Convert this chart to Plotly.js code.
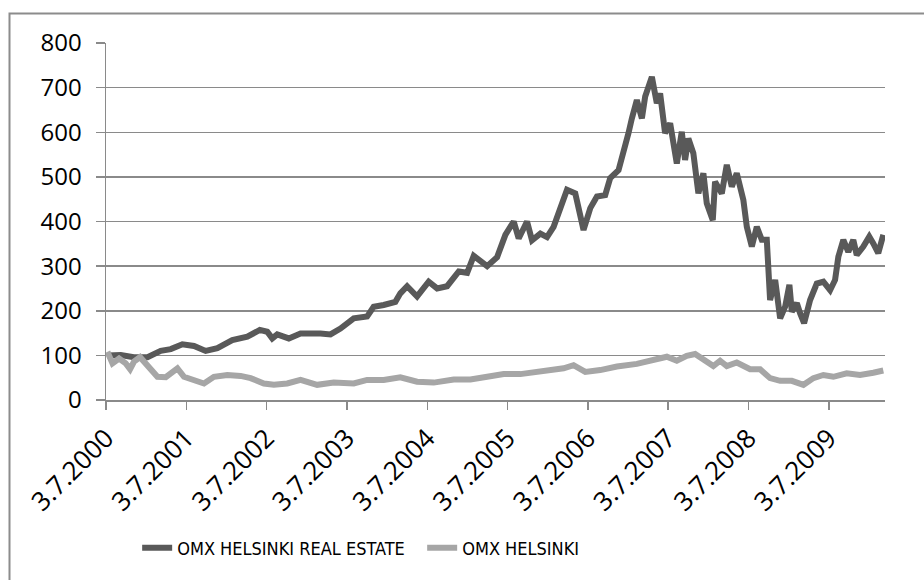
<!DOCTYPE html>
<html>
<head>
<meta charset="utf-8">
<script src="https://cdn.plot.ly/plotly-3.0.1.min.js"></script>
<style>
  html, body { margin: 0; padding: 0; background: #ffffff; }
  #chart { width: 924px; height: 580px; }
</style>
</head>
<body>
<div id="chart"></div>
<script>
// Time positions expressed as decimal years
const realEstateTime = [2000.520, 2000.686, 2000.848, 2001.018, 2001.183, 2001.308, 2001.453, 2001.598, 2001.743, 2001.889,
  2002.075, 2002.262, 2002.418, 2002.510, 2002.573, 2002.635, 2002.779, 2002.925, 2003.173, 2003.298,
  2003.422, 2003.588, 2003.754, 2003.836, 2003.961, 2004.106, 2004.168, 2004.252, 2004.376, 2004.520,
  2004.625, 2004.749, 2004.894, 2004.998, 2005.080, 2005.247, 2005.371, 2005.474, 2005.578, 2005.640,
  2005.744, 2005.806, 2005.910, 2005.993, 2006.075, 2006.158, 2006.242, 2006.345, 2006.407, 2006.448,
  2006.532, 2006.615, 2006.718, 2006.780, 2006.884, 2006.946, 2007.008, 2007.050, 2007.112, 2007.175,
  2007.216, 2007.299, 2007.361, 2007.402, 2007.464, 2007.527, 2007.610, 2007.672, 2007.713, 2007.754,
  2007.816, 2007.879, 2007.941, 2007.983, 2008.058, 2008.086, 2008.170, 2008.232, 2008.294, 2008.356,
  2008.438, 2008.481, 2008.543, 2008.605, 2008.667, 2008.729, 2008.770, 2008.833, 2008.895, 2008.957,
  2009.010, 2009.040, 2009.103, 2009.144, 2009.193, 2009.268, 2009.351, 2009.433, 2009.517, 2009.579,
  2009.620, 2009.682, 2009.744, 2009.806, 2009.849, 2009.931, 2010.005, 2010.055, 2010.117, 2010.180];
const realEstateValues = [100, 101, 96, 96, 110, 114, 125, 121, 110, 116,
  134, 142, 157, 153, 138, 147, 138, 149, 149, 147,
  160, 183, 187, 209, 213, 220, 239, 255, 232, 265,
  250, 255, 288, 285, 323, 300, 320, 370, 400, 362,
  400, 358, 373, 365, 388, 433, 471, 463, 411, 381,
  430, 456, 459, 497, 515, 553, 598, 631, 672, 631,
  680, 724, 665, 687, 598, 620, 530, 601, 538, 586,
  553, 463, 508, 441, 403, 489, 463, 527, 478, 508,
  448, 388, 344, 388, 359, 359, 224, 269, 183, 209,
  258, 198, 217, 194, 172, 224, 261, 265, 246, 269,
  321, 359, 332, 359, 325, 344, 366, 351, 329, 370];

const helsinkiTime = [2000.520, 2000.583, 2000.665, 2000.748, 2000.802, 2000.851, 2000.926, 2000.997, 2001.059, 2001.142,
  2001.246, 2001.329, 2001.391, 2001.473, 2001.578, 2001.722, 2001.846, 2002.013, 2002.178, 2002.303,
  2002.468, 2002.593, 2002.759, 2002.925, 2003.132, 2003.339, 2003.588, 2003.754, 2003.961, 2004.168,
  2004.376, 2004.583, 2004.831, 2005.039, 2005.247, 2005.453, 2005.661, 2005.826, 2006.034, 2006.200,
  2006.324, 2006.470, 2006.656, 2006.864, 2007.112, 2007.319, 2007.486, 2007.610, 2007.734, 2007.838,
  2007.941, 2008.065, 2008.149, 2008.232, 2008.356, 2008.522, 2008.646, 2008.770, 2008.895, 2009.040,
  2009.185, 2009.309, 2009.433, 2009.558, 2009.724, 2009.890, 2010.055, 2010.180];
const helsinkiValues = [108, 82, 93, 82, 69, 86, 96, 82, 71, 52,
  51, 63, 71, 52, 45, 37, 52, 56, 54, 49,
  37, 34, 37, 45, 34, 39, 37, 45, 45, 51,
  41, 39, 46, 46, 52, 58, 58, 61, 66, 71,
  78, 63, 67, 75, 81, 91, 97, 88, 99, 103,
  90, 76, 88, 76, 84, 69, 69, 49, 43, 43,
  34, 49, 56, 52, 60, 56, 61, 66];

const seriesNames = ['OMX HELSINKI REAL ESTATE', 'OMX HELSINKI'];
const tickYears = [2000, 2001, 2002, 2003, 2004, 2005, 2006, 2007, 2008, 2009];
const tickLabels = ['3.7.2000', '3.7.2001', '3.7.2002', '3.7.2003', '3.7.2004', '3.7.2005', '3.7.2006', '3.7.2007', '3.7.2008', '3.7.2009'];
const axisStart = '2000-07-03';
const axisEndYear = 2010.201;

function pad(n) { return (n < 10 ? '0' : '') + n; }
function yearToDate(d) {
  const y = Math.floor(d);
  const start = Date.UTC(y, 0, 1);
  const end = Date.UTC(y + 1, 0, 1);
  const t = new Date(start + (d - y) * (end - start));
  return t.getUTCFullYear() + '-' + pad(t.getUTCMonth() + 1) + '-' + pad(t.getUTCDate()) + ' ' +
    pad(t.getUTCHours()) + ':' + pad(t.getUTCMinutes());
}

const gridCol = '#8a8a8a';

const traces = [
  {
    x: realEstateTime.map(yearToDate), y: realEstateValues, name: seriesNames[0],
    type: 'scatter', mode: 'lines',
    line: { color: '#595959', width: 6 }
  },
  {
    x: helsinkiTime.map(yearToDate), y: helsinkiValues, name: seriesNames[1],
    type: 'scatter', mode: 'lines',
    line: { color: '#a6a6a6', width: 6 }
  }
];

const layout = {
  width: 924, height: 580,
  margin: { l: 106, r: 39, t: 43, b: 180 },
  paper_bgcolor: '#ffffff', plot_bgcolor: '#ffffff',
  showlegend: true,
  legend: {
    orientation: 'h', x: 0.04, xanchor: 'left', y: -0.415, yanchor: 'middle',
    font: { family: 'Liberation Sans Narrow, DejaVu Sans Condensed, sans-serif', size: 18, color: '#000000' },
    entrywidth: 240, entrywidthmode: 'pixels', tracegroupgap: 0
  },
  xaxis: {
    type: 'date',
    range: [axisStart, yearToDate(axisEndYear)],
    tickmode: 'array',
    tickvals: tickYears.map(y => y + '-07-03'),
    ticktext: tickLabels,
    tickangle: -45,
    ticks: 'outside', ticklen: 8, tickwidth: 1.5, tickcolor: gridCol,
    ticklabelstandoff: 3,
    showline: true, linecolor: gridCol, linewidth: 1.5,
    showgrid: false, zeroline: false,
    tickfont: { family: 'Open Sans, Noto Sans, sans-serif', size: 26, color: '#000000' }
  },
  yaxis: {
    range: [0, 800],
    tickmode: 'linear', tick0: 0, dtick: 100,
    ticks: 'outside', ticklen: 9, tickwidth: 1.5, tickcolor: gridCol,
    ticklabelstandoff: 9,
    showline: true, linecolor: gridCol, linewidth: 1.5,
    showgrid: true, gridcolor: gridCol, gridwidth: 1.5,
    zeroline: false,
    tickfont: { family: 'Open Sans, Noto Sans, sans-serif', size: 24, color: '#000000' }
  },
  shapes: [
    { type: 'rect', xref: 'paper', yref: 'paper',
      x0: (9.5 - 106) / 779, x1: 1.2, y0: -1, y1: (400 - 13.5) / 357,
      line: { color: '#8c8c8c', width: 2 }, fillcolor: 'rgba(0,0,0,0)', layer: 'below' }
  ]
};

Plotly.newPlot('chart', traces, layout, { displayModeBar: false, staticPlot: true });
</script>
</body>
</html>
